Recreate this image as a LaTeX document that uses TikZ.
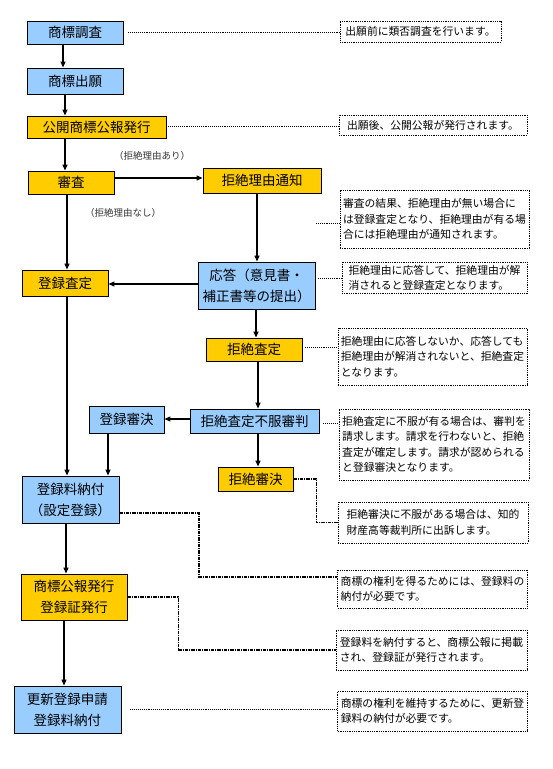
\documentclass[tikz,border=0pt]{standalone}
\usepackage{fontspec}
\setmainfont{Noto Sans CJK JP}
\usetikzlibrary{arrows.meta}
\definecolor{bluefill}{HTML}{99CCFF}
\definecolor{yelfill}{HTML}{FFCC00}
\tikzset{
  boxbase/.style={draw=black, line width=0.9pt, inner sep=2pt, align=center,
    font=\fontsize{13.5}{21}\selectfont},
  bluebox/.style={boxbase, fill=bluefill},
  yelbox/.style={boxbase, fill=yelfill},
  notebox/.style={draw=black, densely dotted, line width=0.8pt, inner sep=3pt, align=left,
    font=\fontsize{10.8}{15.5}\selectfont},
  arr/.style={line width=1.2pt, -{Triangle[length=6pt,width=5pt]}},
  dotline/.style={densely dotted, line width=0.9pt},
  dd/.style={line width=1.7pt, dash pattern=on 3.5pt off 1pt on 1pt off 1pt},
  lbl/.style={font=\fontsize{9.5}{11}\selectfont, text=black!80}
}
\begin{document}
\begin{tikzpicture}[x=1pt,y=-1pt]
\useasboundingbox[fill=white] (0,0) rectangle (553,769);

% main nodes
\node[bluebox, minimum width=96pt, minimum height=23pt] (chosa) at (75,32.5) {商標調査};
\node[bluebox, minimum width=96pt, minimum height=26pt] (shutsugan) at (75,81) {商標出願};
\node[yelbox, minimum width=139pt, minimum height=22pt] (kokai) at (96.5,127) {公開商標公報発行};
\node[yelbox, minimum width=86pt, minimum height=23pt] (shinsa) at (71,182.5) {審査};
\node[yelbox, minimum width=118pt, minimum height=25pt] (tsuchi) at (262,180.5) {拒絶理由通知};
\node[yelbox, minimum width=86pt, minimum height=26pt] (tsatei) at (65,283) {登録査定};
\node[bluebox, minimum width=117pt, minimum height=47pt] (oto) at (256.5,285.5) {応答（意見書・\\補正書等の提出）};
\node[yelbox, minimum width=96pt, minimum height=23pt] (ksatei) at (254,349.5) {拒絶査定};
\node[bluebox, minimum width=75pt, minimum height=27pt] (tshin) at (126.5,419.5) {登録審決};
\node[bluebox, minimum width=129pt, minimum height=24pt] (fufuku) at (254.5,421) {拒絶査定不服審判};
\node[yelbox, minimum width=75pt, minimum height=24pt] (kshin) at (255.5,479) {拒絶審決};
\node[bluebox, minimum width=97pt, minimum height=47pt] (nofu) at (70.5,499.5) {登録料納付\\（設定登録）};
\node[yelbox, minimum width=106pt, minimum height=46pt] (koho) at (74,597) {商標公報発行\\登録証発行};
\node[bluebox, minimum width=107pt, minimum height=47pt] (koshin) at (67.5,709.5) {更新登録申請\\登録料納付};

% labels
\node[lbl] (lari) at (152,156) {（拒絶理由あり）};
\node[lbl] (lnashi) at (123,213) {（拒絶理由なし）};

% notes
\node[notebox, minimum width=161pt, minimum height=21pt] (n1) at (420.5,31.5) {出願前に類否調査を行います。};
\node[notebox, minimum width=188pt, minimum height=20pt] (n2) at (433,125) {出願後、公開公報が発行されます。};
\node[notebox, minimum width=189pt, minimum height=58pt] (n3) at (434.5,219) {審査の結果、拒絶理由が無い場合に\\は登録査定となり、拒絶理由が有る場\\合には拒絶理由が通知されます。};
\node[notebox, minimum width=185pt, minimum height=30pt] (n4) at (434.5,278) {拒絶理由に応答して、拒絶理由が解\\消されると登録査定となります。};
\node[notebox, minimum width=189pt, minimum height=57pt] (n5) at (432.5,356.5) {拒絶理由に応答しないか、応答しても\\拒絶理由が解消されないと、拒絶査定\\となります。};
\node[notebox, minimum width=190pt, minimum height=71pt] (n6) at (434,444.5) {拒絶査定に不服が有る場合は、審判を\\請求します。請求を行わないと、拒絶\\査定が確定します。請求が認められる\\と登録審決となります。};
\node[notebox, minimum width=190pt, minimum height=41pt] (n7) at (433,522.5) {拒絶審決に不服がある場合は、知的\\財産高等裁判所に出訴します。};
\node[notebox, minimum width=189pt, minimum height=38pt] (n8) at (432.5,589) {商標の権利を得るためには、登録料の\\納付が必要です。};
\node[notebox, minimum width=191pt, minimum height=40pt] (n9) at (431.5,650) {登録料を納付すると、商標公報に掲載\\され、登録証が発行されます。};
\node[notebox, minimum width=189pt, minimum height=40pt] (n10) at (432.5,711) {商標の権利を維持するために、更新登\\録料の納付が必要です。};

\coordinate (c3) at (316,223);

% arrows
\draw[arr] (chosa.south -| 63,0) -- (shutsugan.north -| 63,0);
\draw[arr] (shutsugan.south -| 65,0) -- (kokai.north -| 65,0);
\draw[arr] (kokai.south -| 65,0) -- (shinsa.north -| 65,0);
\draw[arr] (shinsa.east |- 0,178) -- (tsuchi.west |- 0,178);
\draw[arr] (shinsa.south -| 67,0) -- (tsatei.north -| 67,0);
\draw[arr] (tsuchi.south -| 257,0) -- (oto.north -| 257,0);
\draw[arr] (oto.west |- 0,284) -- (tsatei.east |- 0,284);
\draw[arr] (oto.south -| 256,0) -- (ksatei.north -| 256,0);
\draw[arr] (ksatei.south -| 258,0) -- (fufuku.north -| 258,0);
\draw[arr] (fufuku.west |- 0,419) -- (tshin.east |- 0,419);
\draw[arr] (fufuku.south -| 258,0) -- (kshin.north -| 258,0);
\draw[arr] (tsatei.south -| 67,0) -- (nofu.north -| 67,0);
\draw[arr] (tshin.south -| 108,0) -- (nofu.north -| 108,0);
\draw[arr] (nofu.south -| 66,0) -- (koho.north -| 66,0);
\draw[arr] (koho.south -| 64,0) -- (koshin.north -| 64,0);

% note connectors
\draw[dotline, shorten <=5pt] (chosa.east |- 0,32) -- (n1.west |- 0,32);
\draw[dotline, shorten <=2pt] (kokai.east |- 0,126) -- (n2.west |- 0,126);
\draw[dotline] (c3) -- (c3 -| n3.west);
\draw[dotline, shorten <=3pt] (oto.east |- 0,278) -- (n4.west |- 0,278);
\draw[dotline, shorten <=3pt] (ksatei.east |- 0,347) -- (n5.west |- 0,347);
\draw[dotline, shorten <=4pt] (fufuku.east |- 0,423) -- (n6.west |- 0,423);
\draw[dd] (kshin.east) -- ++(23,0) |- (n7.west);
\draw[dd] (nofu.east |- 0,513) -| (199,577) -- (n8.west |- 0,577);
\draw[dd] (koho.east) -- ++(51,0) |- (n9.west);
\draw[dotline, shorten <=9pt] (koshin.east |- 0,709) -- (n10.west |- 0,709);
\end{tikzpicture}
\end{document}
